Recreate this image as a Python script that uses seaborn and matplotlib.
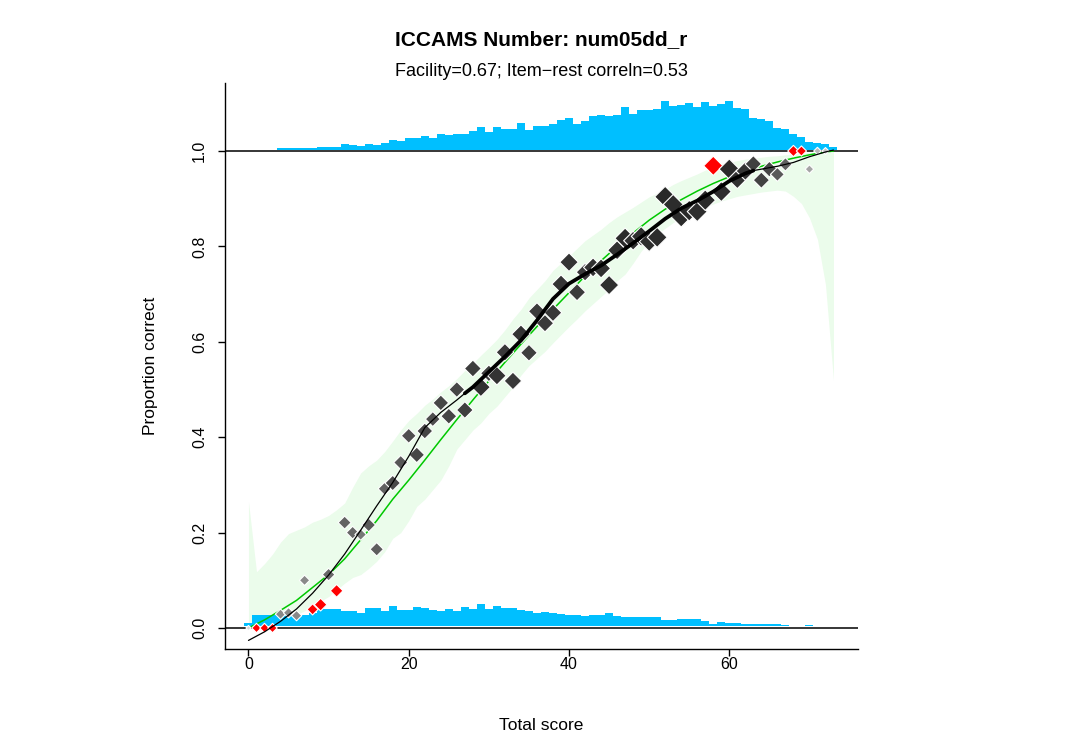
import numpy as np
import pandas as pd
import matplotlib
matplotlib.use("Agg")
import matplotlib.pyplot as plt
import seaborn as sns

# ---------------- data ----------------
title = "ICCAMS Number: num05dd_r"
subtitle = "Facility=0.67; Item\u2212rest correln=0.53"
x_label = "Total score"
y_label = "Proportion correct"
x_ticks = [0, 20, 40, 60]
y_ticks = [0.0, 0.2, 0.4, 0.6, 0.8, 1.0]
y_tick_labels = ["0.0", "0.2", "0.4", "0.6", "0.8", "1.0"]

# histogram of scores for those answering correctly (drawn above 1.0)
top_scores = list(range(4, 74))
top_counts = [2.5, 2.5, 2.5, 2.5, 2.5, 3.5, 3.5, 3.5, 6, 5, 4, 6, 5, 7, 10, 9, 12, 12, 14, 12,
              16, 15, 16, 16, 19, 23, 18, 23, 21, 21, 27, 20, 24, 24, 26, 30, 32, 26, 29, 34,
              35, 34, 35, 43, 36, 40, 40, 41, 49, 44, 45, 47, 43, 48, 44, 46, 49, 42, 41, 32,
              31, 29, 22, 21, 16, 13, 8, 7, 6, 3]
# histogram of scores for those answering incorrectly (drawn above 0.0)
bottom_scores = list(range(0, 71))
bottom_counts = [3.3, 11, 11, 11, 11, 11, 11, 11, 13, 16.7, 16.7, 16.7, 15.3, 15.3, 12.7, 17.7,
                 17.7, 15, 20, 16, 16, 18.7, 17.7, 16, 15.3, 17, 15.3, 18.7, 17, 22, 17, 20, 18,
                 18, 16.5, 15.3, 13, 14, 13.3, 12.3, 11, 11, 10.5, 11.5, 11, 12.8, 10.5, 9.5, 9,
                 8.7, 8.7, 8.7, 6.3, 6.3, 7, 7, 7, 5, 2.2, 4.2, 3.2, 3.2, 2.2, 2.2, 2.2, 2.2, 2.2,
                 1.2, 0, 0, 1.2]

# observed proportion correct at each total score
point_scores = list(range(0, 73))
point_props = [0.0, 0.0, 0.0, 0.0, 0.029, 0.032, 0.026, 0.10, 0.039, 0.049, 0.112, 0.078,
               0.221, 0.200, 0.196, 0.216, 0.165, 0.292, 0.304, 0.347, 0.403, 0.363, 0.413,
               0.438, 0.472, 0.444, 0.500, 0.457, 0.544, 0.505, 0.534, 0.529, 0.578, 0.518,
               0.616, 0.577, 0.664, 0.639, 0.661, 0.721, 0.767, 0.704, 0.746, 0.756, 0.754,
               0.719, 0.792, 0.817, 0.812, 0.821, 0.810, 0.819, 0.904, 0.888, 0.862, 0.875,
               0.873, 0.897, 0.969, 0.915, 0.962, 0.941, 0.958, 0.973, 0.939, 0.962, 0.951,
               0.972, 1.0, 1.0, 0.962, 1.0, 1.0]
flagged_scores = [1, 2, 3, 8, 9, 11, 58, 68, 69]

# smoothed empirical curve (black)
smooth_x = [0, 2, 4, 6, 8, 10, 12, 14, 16, 18, 20, 22, 24, 26, 27, 28, 30, 32, 34, 36, 38,
            40, 42, 44, 46, 48, 50, 52, 54, 56, 58, 60, 62, 63, 64, 66, 68, 70, 72, 73]
smooth_y = [-0.026, -0.008, 0.014, 0.040, 0.073, 0.111, 0.155, 0.205, 0.256, 0.305, 0.360,
            0.420, 0.452, 0.478, 0.492, 0.505, 0.537, 0.569, 0.603, 0.645, 0.690, 0.722,
            0.742, 0.760, 0.783, 0.807, 0.832, 0.858, 0.880, 0.896, 0.915, 0.937, 0.953,
            0.959, 0.962, 0.968, 0.976, 0.988, 0.998, 1.002]
thick_from, thick_to = 27, 63

# model curve (green)
model_x = [0, 2, 4, 6, 8, 10, 12, 14, 16, 18, 20, 22, 24, 26, 28, 30, 32, 34, 36, 38, 40,
           42, 44, 46, 48, 50, 52, 54, 56, 58, 60, 62, 64, 66, 68, 70, 72, 73]
model_y = [0.0, 0.017, 0.037, 0.058, 0.085, 0.112, 0.145, 0.185, 0.225, 0.270, 0.310,
           0.352, 0.395, 0.437, 0.478, 0.518, 0.557, 0.595, 0.632, 0.668, 0.703, 0.738,
           0.770, 0.800, 0.828, 0.855, 0.878, 0.898, 0.916, 0.932, 0.946, 0.958, 0.968,
           0.977, 0.985, 0.992, 0.998, 1.0]

# confidence band
band_x = list(range(0, 74))
band_hi = [0.265, 0.118, 0.135, 0.155, 0.18, 0.198, 0.205, 0.212, 0.222, 0.228, 0.236, 0.248,
           0.262, 0.295, 0.325, 0.34, 0.352, 0.37, 0.392, 0.415, 0.435, 0.45, 0.467, 0.48,
           0.495, 0.508, 0.523, 0.54, 0.555, 0.572, 0.588, 0.605, 0.625, 0.648, 0.668, 0.692,
           0.71, 0.728, 0.75, 0.765, 0.78, 0.796, 0.812, 0.824, 0.836, 0.85, 0.862, 0.872,
           0.882, 0.893, 0.904, 0.912, 0.92, 0.93, 0.938, 0.945, 0.952, 0.96, 0.966, 0.972,
           0.976, 0.98, 0.983, 0.985, 0.987, 0.989, 0.99, 0.992, 0.994, 0.995, 0.997, 0.998,
           1.0, 1.002]
band_lo = [0.0, 0.003, 0.006, 0.01, 0.015, 0.021, 0.028, 0.036, 0.046, 0.056, 0.066, 0.08,
           0.094, 0.106, 0.112, 0.125, 0.14, 0.16, 0.188, 0.2, 0.225, 0.255, 0.27, 0.29, 0.31,
           0.34, 0.375, 0.395, 0.415, 0.43, 0.45, 0.465, 0.485, 0.505, 0.53, 0.55, 0.565,
           0.58, 0.598, 0.615, 0.632, 0.648, 0.665, 0.68, 0.695, 0.71, 0.728, 0.742, 0.765,
           0.79, 0.81, 0.826, 0.838, 0.85, 0.86, 0.868, 0.875, 0.882, 0.889, 0.895, 0.9,
           0.905, 0.908, 0.911, 0.914, 0.916, 0.918, 0.916, 0.905, 0.89, 0.86, 0.815, 0.72,
           0.52]

# ---------------- style ----------------
sns.set_style("ticks")
plt.rcParams["font.family"] = ["Liberation Sans", "DejaVu Sans"]
plt.rcParams["axes.unicode_minus"] = True
plt.rcParams["text.color"] = "black"
plt.rcParams["axes.labelcolor"] = "black"
plt.rcParams["xtick.color"] = "black"
plt.rcParams["ytick.color"] = "black"

W, H = 1065, 756
fig = plt.figure(figsize=(W / 100, H / 100), dpi=100)
ax = fig.add_axes([225 / W, 1 - 649 / H, (858 - 225) / W, (649 - 83) / H])

hist_scale = 1 / 477.0
hist_color = "#00BFFF"

# confidence band
ax.fill_between(band_x, band_lo, band_hi, color="#EBFCEB", lw=0, zorder=1)

# histograms
ax.bar(top_scores, np.array(top_counts) * hist_scale, bottom=1.002, width=1.0,
       color=hist_color, linewidth=0, zorder=2)
ax.bar(bottom_scores, np.array(bottom_counts) * hist_scale, bottom=0.004, width=1.0,
       color=hist_color, linewidth=0, zorder=2)

ax.axhline(0, color="black", lw=1.1, zorder=3)
ax.axhline(1, color="black", lw=1.1, zorder=3)

# model curve
sns.lineplot(x=model_x, y=model_y, color="#00C800", lw=1.1, ax=ax, zorder=4,
             estimator=None, sort=False)

# points
tc = dict(zip(top_scores, top_counts))
bc = dict(zip(bottom_scores, bottom_counts))
n = np.array([tc.get(s, 0) + bc.get(s, 0) for s in point_scores])
pid = [f"p{s}" for s in point_scores]
gray = 0.12 + 0.88 * np.exp(-n / 18.0)
cols = {}
for p, s, g in zip(pid, point_scores, gray):
    cols[p] = "#FF0000" if s in flagged_scores else (g, g, g)
width_px = 2.0 * np.sqrt(n)
svals = {p: (w / 1.389) ** 2 for p, w in zip(pid, width_px)}
df = pd.DataFrame({"score": point_scores, "prop": point_props, "pid": pid})
sns.scatterplot(data=df, x="score", y="prop", hue="pid", palette=cols, size="pid",
                sizes=svals, marker="D", edgecolor="white", linewidth=0.8,
                legend=False, ax=ax, zorder=5)

# smoothed empirical curve: thin overall, thick where data are dense
sns.lineplot(x=smooth_x, y=smooth_y, color="black", lw=0.9, ax=ax, zorder=6,
             estimator=None, sort=False)
sx = np.array(smooth_x)
sy = np.array(smooth_y)
mask = (sx >= thick_from) & (sx <= thick_to)
sns.lineplot(x=sx[mask], y=sy[mask], color="black", lw=2.7, ax=ax, zorder=6,
             estimator=None, sort=False, solid_capstyle="round")

# axes
ax.set_xlim(-2.93, 76.06)
ax.set_ylim(-0.044, 1.1426)
ax.set_xticks(x_ticks)
ax.set_xticklabels([str(t) for t in x_ticks])
ax.set_yticks(y_ticks)
ax.set_yticklabels(y_tick_labels, rotation=90, va="center")
for side in ["top", "right"]:
    ax.spines[side].set_visible(False)
for side in ["left", "bottom"]:
    ax.spines[side].set_color("black")
    ax.spines[side].set_linewidth(1.0)
ax.tick_params(axis="both", direction="out", length=5, width=1.0, color="black",
               labelsize=11.5, labelcolor="black")
ax.tick_params(axis="x", pad=0.5)
ax.tick_params(axis="y", pad=8)
ax.set_xlabel("")
ax.set_ylabel("")

cx = (225 + 858) / 2 / W
fig.text(cx, 1 - 40 / H, title, ha="center", va="center", fontsize=15, fontweight="bold",
         color="black")
fig.text(cx, 1 - 72 / H, subtitle, ha="center", va="center", fontsize=13, color="black")
fig.text(cx, 1 - 726 / H, x_label, ha="center", va="center", fontsize=12.5, color="black")
fig.text(150 / W, 1 - 366 / H, y_label, ha="center", va="center", fontsize=12.5,
         rotation=90, color="black")

fig.savefig("out.png", dpi=100, facecolor="white")
